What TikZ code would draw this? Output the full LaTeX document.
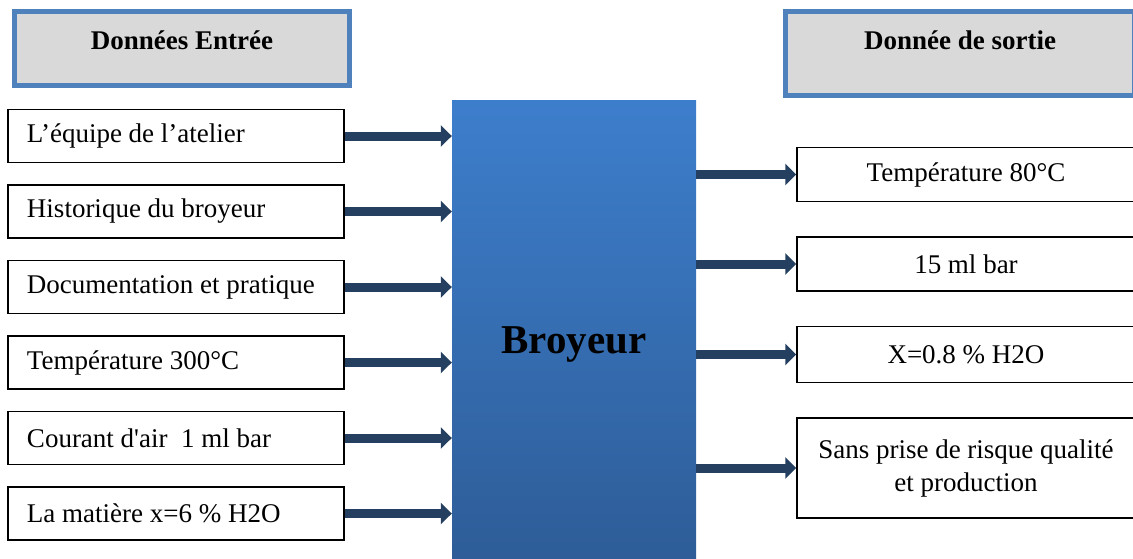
\documentclass[tikz,border=0pt]{standalone}
\usepackage{fontspec}
\setmainfont{Liberation Serif}[Ligatures=TeXOff]
\usepackage{tikz}
\usetikzlibrary{arrows.meta,positioning}
\definecolor{bleu}{HTML}{4F81BD}
\definecolor{marine}{HTML}{243F60}
\definecolor{grisclair}{HTML}{D9D9D9}
\definecolor{bleuhaut}{HTML}{3D7ECC}
\definecolor{bleubas}{HTML}{2E5D98}

\begin{document}
\begin{tikzpicture}[x=1pt, y=-1pt,
      node distance=21pt,
      titre/.style={rectangle, draw=bleu, line width=5pt, fill=grisclair, inner ysep=10pt,
                    text height=27.5pt, font=\fontsize{27}{32}\selectfont\bfseries},
      entree/.style={rectangle, draw=black, line width=1.5pt, text width=298pt, inner xsep=19pt,
                     align=left, minimum height=53pt, font=\fontsize{27}{33}\selectfont,
                     execute at begin node={\spaceskip=0.25em\relax}},
      sortie/.style={entree, text width=320pt, inner xsep=9pt, align=center, minimum height=54pt},
      fleche/.style={-{Triangle[length=11pt, width=21pt]}, draw=marine, line width=9pt}]

    \useasboundingbox (0,0) rectangle (1133,558);
    \clip (0,0) rectangle (1133,558);

    \node[titre, minimum width=335pt, text depth=26.5pt] (tin) at (182,48.5) {Données Entrée};
    \node[titre, minimum width=349pt, text depth=36.5pt] (tout) at (960,53.5) {Donnée de sortie};

    \node[rectangle, top color=bleuhaut, bottom color=bleubas, minimum width=244pt, minimum height=458pt,
          inner sep=0pt, text height=48pt, text depth=0pt, font=\fontsize{41}{48}\selectfont\bfseries]
          (broyeur) at (574,329) {Broyeur};

    \node[entree] (e1) at (176,136) {L’équipe de l’atelier};
    \node[entree, below=of e1] (e2) {Historique du broyeur};
    \node[entree, below=of e2] (e3) {Documentation et pratique};
    \node[entree, below=of e3] (e4) {Température 300°C};
    \node[entree, below=of e4] (e5) {Courant d'air\ \ 1 ml bar};
    \node[entree, below=of e5] (e6) {La matière x=6 \% H2O};

    \node[sortie] (s1) at (966,174.5) {Température 80°C};
    \node[sortie, below=34pt of s1] (s2) {15 ml bar};
    \node[sortie, below=34pt of s2, minimum height=56pt] (s3) {X=0.8 \% H2O};
    \node[sortie, below=34pt of s3, minimum height=100pt] (s4) {Sans prise de risque qualité\\et production};

    \draw[fleche] (e1.east) -- (e1.east -| broyeur.west);
    \draw[fleche] (e2.east) -- (e2.east -| broyeur.west);
    \draw[fleche] (e3.east) -- (e3.east -| broyeur.west);
    \draw[fleche] (e4.east) -- (e4.east -| broyeur.west);
    \draw[fleche] (e5.east) -- (e5.east -| broyeur.west);
    \draw[fleche] (e6.east) -- (e6.east -| broyeur.west);
    \draw[fleche] (broyeur.east |- s1) -- (s1.west);
    \draw[fleche] (broyeur.east |- s2) -- (s2.west);
    \draw[fleche] (broyeur.east |- s3) -- (s3.west);
    \draw[fleche] (broyeur.east |- s4) -- (s4.west);
  \end{tikzpicture}
\end{document}
